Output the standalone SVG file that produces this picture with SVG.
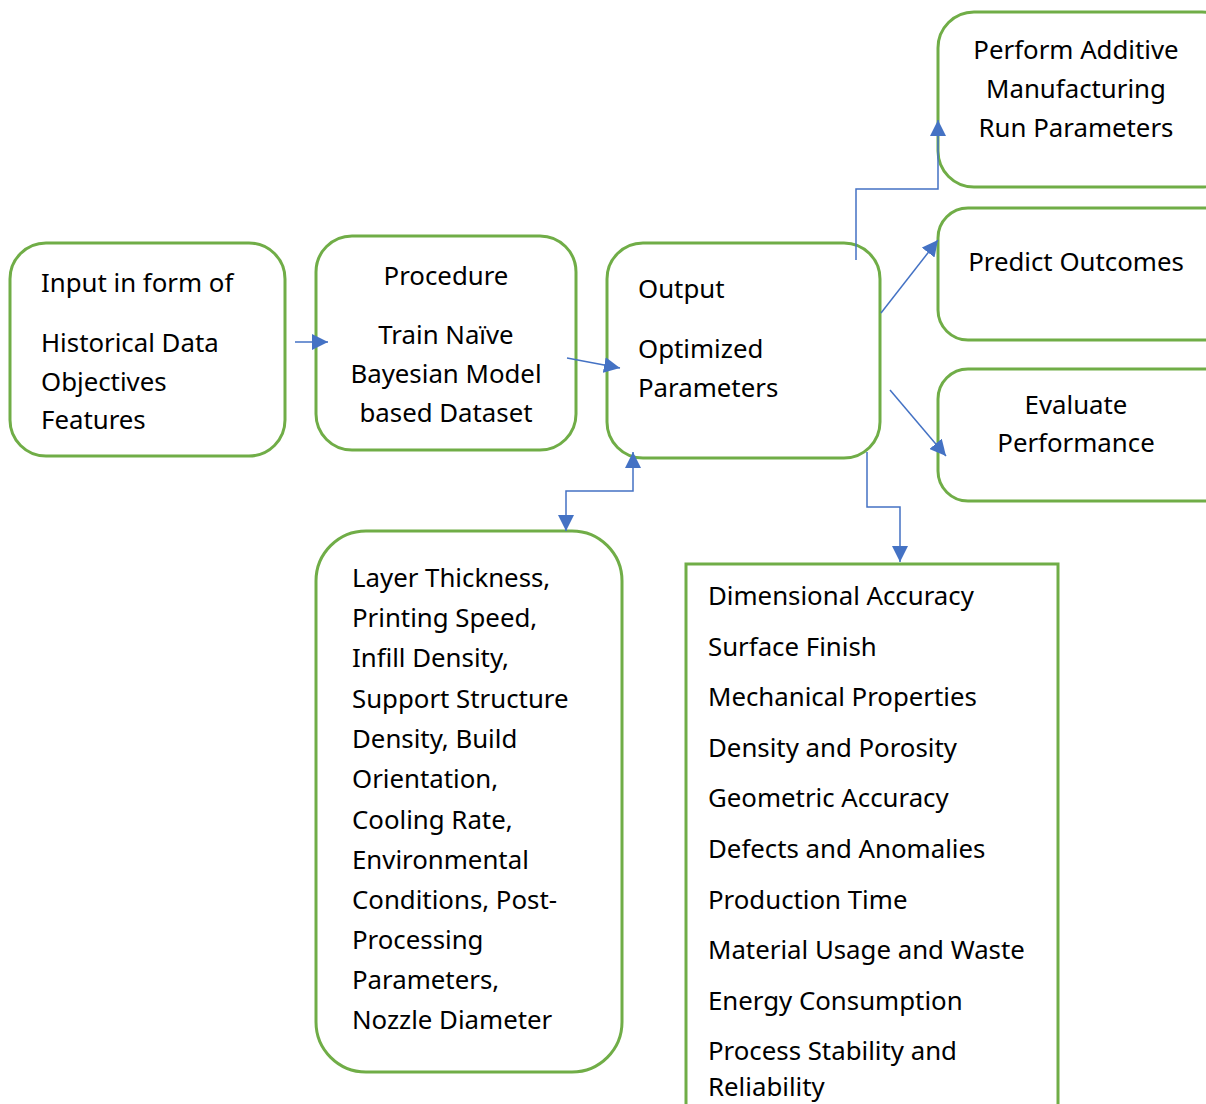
<svg xmlns="http://www.w3.org/2000/svg" width="1206" height="1104" viewBox="0 0 1206 1104">
<defs>
<style>
.box{fill:#fff;stroke:#70ad47;stroke-width:3}
.t{font-family:"Noto Sans","Open Sans","DejaVu Sans",sans-serif;font-size:25.8px;fill:#000}
.c{text-anchor:middle}
.ln{fill:none;stroke:#4472c4;stroke-width:1.5}
</style>
<marker id="ah" viewBox="0 0 10 10" refX="10" refY="5" markerWidth="16" markerHeight="16" markerUnits="userSpaceOnUse" orient="auto-start-reverse">
<path d="M0,0 L10,5 L0,10 z" fill="#4472c4"/>
</marker>
</defs>
<rect width="1206" height="1104" fill="#fff"/>
<g id="input">
<rect class="box" x="10" y="243" width="275" height="213" rx="36"/>
<text class="t" x="41" y="292">Input in form of</text>
<text class="t" x="41" y="352">Historical Data</text>
<text class="t" x="41" y="391">Objectives</text>
<text class="t" x="41" y="429">Features</text>
</g>
<g id="procedure">
<rect class="box" x="316" y="236" width="260" height="214" rx="36"/>
<text class="t c" x="446" y="285">Procedure</text>
<text class="t c" x="446" y="344">Train Naïve</text>
<text class="t c" x="446" y="383">Bayesian Model</text>
<text class="t c" x="446" y="422">based Dataset</text>
</g>
<g id="output">
<rect class="box" x="607" y="243" width="273" height="215" rx="36"/>
<text class="t" x="638" y="298">Output</text>
<text class="t" x="638" y="358">Optimized</text>
<text class="t" x="638" y="397">Parameters</text>
</g>
<g id="perform">
<rect class="box" x="938" y="12" width="300" height="175" rx="36"/>
<text class="t c" x="1076" y="59">Perform Additive</text>
<text class="t c" x="1076" y="98">Manufacturing</text>
<text class="t c" x="1076" y="137">Run Parameters</text>
</g>
<g id="predict">
<rect class="box" x="938" y="208" width="300" height="132" rx="30"/>
<text class="t c" x="1076" y="271">Predict Outcomes</text>
</g>
<g id="evaluate">
<rect class="box" x="938" y="369" width="300" height="132" rx="30"/>
<text class="t c" x="1076" y="414">Evaluate</text>
<text class="t c" x="1076" y="452">Performance</text>
</g>
<g id="parameters">
<rect class="box" x="316" y="531" width="306" height="541" rx="50"/>
<text class="t" x="352" y="587">Layer Thickness,</text>
<text class="t" x="352" y="627">Printing Speed,</text>
<text class="t" x="352" y="667">Infill Density,</text>
<text class="t" x="352" y="708">Support Structure</text>
<text class="t" x="352" y="748">Density, Build</text>
<text class="t" x="352" y="788">Orientation,</text>
<text class="t" x="352" y="829">Cooling Rate,</text>
<text class="t" x="352" y="869">Environmental</text>
<text class="t" x="352" y="909">Conditions, Post-</text>
<text class="t" x="352" y="949">Processing</text>
<text class="t" x="352" y="989">Parameters,</text>
<text class="t" x="352" y="1029">Nozzle Diameter</text>
</g>
<g id="outcomes">
<rect class="box" x="686" y="564" width="372" height="560"/>
<text class="t" x="708" y="605">Dimensional Accuracy</text>
<text class="t" x="708" y="656">Surface Finish</text>
<text class="t" x="708" y="706">Mechanical Properties</text>
<text class="t" x="708" y="757">Density and Porosity</text>
<text class="t" x="708" y="807">Geometric Accuracy</text>
<text class="t" x="708" y="858">Defects and Anomalies</text>
<text class="t" x="708" y="909">Production Time</text>
<text class="t" x="708" y="959">Material Usage and Waste</text>
<text class="t" x="708" y="1010">Energy Consumption</text>
<text class="t" x="708" y="1060">Process Stability and</text>
<text class="t" x="708" y="1096">Reliability</text>
</g>
<g id="connectors">
<line class="ln" x1="295" y1="342" x2="328" y2="342" marker-end="url(#ah)"/>
<line class="ln" x1="567" y1="358" x2="620" y2="368" marker-end="url(#ah)"/>
<polyline class="ln" points="856,260 856,189 938,189 938,120" marker-end="url(#ah)"/>
<line class="ln" x1="881" y1="313" x2="938" y2="240" marker-end="url(#ah)"/>
<line class="ln" x1="890" y1="390" x2="946" y2="456" marker-end="url(#ah)"/>
<polyline class="ln" points="867,452 867,507 900,507 900,562" marker-end="url(#ah)"/>
<polyline class="ln" points="633,452 633,491 566,491 566,531" marker-start="url(#ah)" marker-end="url(#ah)"/>
</g>
</svg>
